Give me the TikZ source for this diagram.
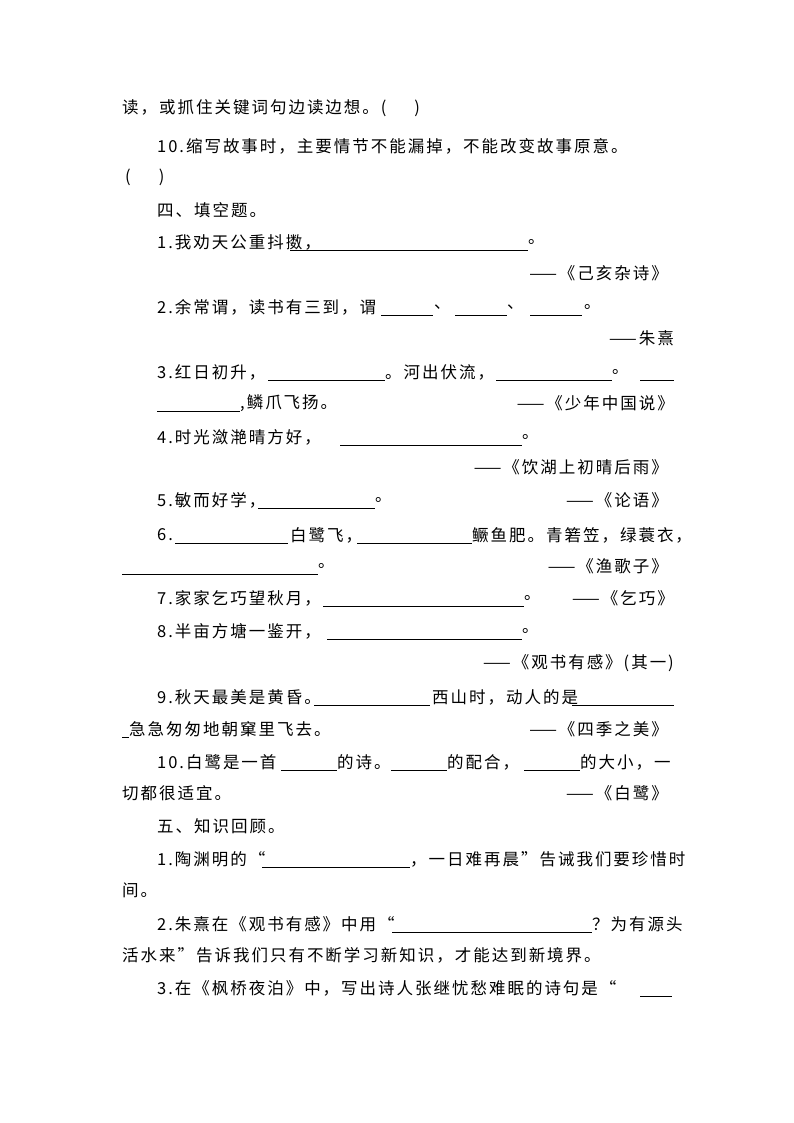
\documentclass[tikz,border=0pt]{standalone}
\usepackage{fontspec}
\newfontfamily\cjk[LetterSpace=12]{Noto Sans CJK SC}
\newcounter{tc}
\newcommand\tx[3]{\stepcounter{tc}\node[txt,name=t\arabic{tc}] at (#1,-#2) {#3};}
\newcommand\tr[3]{\stepcounter{tc}\node[txt,anchor=east,name=t\arabic{tc}] at (#1,-#2) {#3};}
\newcommand\bl[3]{\draw[blank] (#1,-#3-8) -- (#2,-#3-8);}
\begin{document}
\begin{tikzpicture}[x=1pt,y=1pt,txt/.style={anchor=west,inner sep=0pt,font=\cjk\fontsize{16.5}{18}\selectfont},blank/.style={line width=0.6pt}]
\useasboundingbox[fill=white] (0,0) rectangle (794,-1123);
\tx{122}{108}{读，或抓住关键词句边读边想。(\hspace{28pt})}
\tx{157}{146}{10.缩写故事时，主要情节不能漏掉，不能改变故事原意。}
\tx{125}{177}{(\hspace{28pt})}
\tx{157}{210}{四、填空题。}
\tx{157}{242}{1.我劝天公重抖擞，}\bl{290}{528}{242}\tx{528}{242}{。}
\tr{668}{273}{——《己亥杂诗》}
\tx{157}{307}{2.余常谓，读书有三到，谓}\bl{381}{433}{307}\tx{434}{307}{、}\bl{455}{507}{307}\tx{507}{307}{、}\bl{530}{582}{307}\tx{584}{307}{。}
\tr{674}{338}{——朱熹}
\tx{157}{372}{3.红日初升，}\bl{268}{385}{372}\tx{385}{372}{。河出伏流，}\bl{496}{612}{372}\tx{612}{372}{。}\bl{640}{674}{372}
\bl{157}{240}{403}\tx{240}{403}{,鳞爪飞扬。}
\tr{674}{403}{——《少年中国说》}
\tx{157}{437}{4.时光潋滟晴方好，}\bl{340}{522}{437}\tx{522}{437}{。}
\tr{668}{467}{——《饮湖上初晴后雨》}
\tx{157}{500}{5.敏而好学，}\bl{258}{375}{500}\tx{375}{500}{。}
\tr{668}{500}{——《论语》}
\tx{157}{535}{6.}\bl{175}{288}{535}\tx{290}{535}{白鹭飞，}\bl{357}{472}{535}\tx{472}{535}{鳜鱼肥。青箬笠，绿蓑衣，}
\bl{122}{318}{566}\tx{318}{566}{。}
\tr{668}{566}{——《渔歌子》}
\tx{157}{598}{7.家家乞巧望秋月，}\bl{323}{524}{598}\tx{524}{598}{。}
\tr{674}{598}{——《乞巧》}
\tx{157}{631}{8.半亩方塘一鉴开，}\bl{327}{522}{631}\tx{522}{631}{。}
\tr{674}{663}{——《观书有感》(其一)}
\tx{157}{697}{9.秋天最美是黄昏。}\bl{314}{430}{697}\tx{432}{697}{西山时，动人的是}\bl{572}{674}{697}
\bl{122}{129}{729}\tx{129}{729}{急急匆匆地朝窠里飞去。}
\tr{668}{729}{——《四季之美》}
\tx{157}{762}{10.白鹭是一首}\bl{281}{337}{762}\tx{337}{762}{的诗。}\bl{391}{447}{762}\tx{447}{762}{的配合，}\bl{524}{580}{762}\tx{580}{762}{的大小，一}
\tx{122}{793}{切都很适宜。}
\tr{668}{793}{——《白鹭》}
\tx{157}{826}{五、知识回顾。}
\tx{157}{859}{1.陶渊明的“}\bl{262}{410}{859}\tx{410}{859}{，一日难再晨”告诫我们要珍惜时}
\tx{122}{890}{间。}
\tx{157}{924}{2.朱熹在《观书有感》中用“}\bl{392}{592}{924}\tx{592}{924}{？为有源头}
\tx{122}{955}{活水来”告诉我们只有不断学习新知识，才能达到新境界。}
\tx{157}{988}{3.在《枫桥夜泊》中，写出诗人张继忧愁难眠的诗句是“}\bl{640}{672}{988}
\end{tikzpicture}
\end{document}
